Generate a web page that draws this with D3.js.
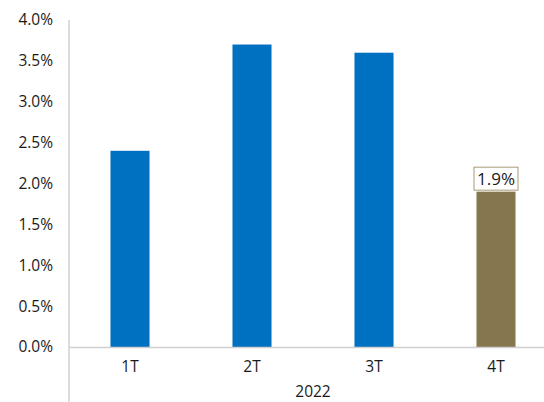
<!DOCTYPE html>
<html><head><meta charset="utf-8">
<script src="https://cdn.jsdelivr.net/npm/d3@7"></script>
<style>body{margin:0;background:#fff}text{font-family:"Open Sans",sans-serif;fill:#1a1a1a}</style>
</head><body><svg id="c" width="544" height="402"></svg>
<script>
const categories = ["1T","2T","3T","4T"];
const values = [2.4, 3.7, 3.6, 1.9];
const colors = ["#0070C0","#0070C0","#0070C0","#86764E"];
const yTicks = [0,0.5,1,1.5,2,2.5,3,3.5,4];
const groupLabel = "2022";
const labelled = [3];

(function(){
const svg = d3.select("#c");
const mLeft = 69, mRight = 557, mTop = 20, mBottom = 347;
const x = d3.scaleBand().domain(categories).range([mLeft,mRight]).paddingInner(0.68).paddingOuter(0.34);
const y = d3.scaleLinear().domain([0,4]).range([mBottom, mTop]);

svg.append("line").attr("x1",mLeft).attr("x2",mLeft).attr("y1",y(4)).attr("y2",402).attr("stroke","#d0d0d0").attr("stroke-width",1.5);

svg.selectAll("text.yt").data(yTicks).enter().append("text").attr("class","yt")
  .attr("x",53).attr("y",d=>y(d)).attr("dy","0.35em").attr("text-anchor","end")
  .attr("font-size",15.5).text(d=>d.toFixed(1)+"%");

svg.selectAll("rect.bar").data(values).enter().append("rect").attr("class","bar")
  .attr("x",(d,i)=>x(categories[i])).attr("width",x.bandwidth())
  .attr("y",d=>y(d)).attr("height",d=>y(0)-y(d)).attr("fill",(d,i)=>colors[i]);

svg.append("line").attr("x1",mLeft).attr("x2",544).attr("y1",mBottom+0.5).attr("y2",mBottom+0.5).attr("stroke","#d0d0d0").attr("stroke-width",1.5);

svg.selectAll("text.xt").data(categories).enter().append("text").attr("class","xt")
  .attr("x",d=>x(d)+x.bandwidth()/2).attr("y",367).attr("dy","0.35em").attr("text-anchor","middle")
  .attr("font-size",15.5).text(d=>d);

svg.append("text").attr("x",(mLeft+mRight)/2).attr("y",392).attr("dy","0.35em").attr("text-anchor","middle").attr("font-size",15.5).text(groupLabel);

labelled.forEach(i=>{
  const cx = x(categories[i])+x.bandwidth()/2, ty = y(values[i]) - 13;
  const g = svg.append("g");
  const t = g.append("text").attr("x",cx).attr("y",ty).attr("dy","0.35em").attr("text-anchor","middle").attr("font-size",17).text(values[i].toFixed(1)+"%");
  const bb = t.node().getBBox();
  g.insert("rect","text").attr("x",cx-22).attr("y",ty-11.5).attr("width",44).attr("height",23).attr("fill","#fff").attr("stroke","#a89a74").attr("stroke-width",1);
});
})();
</script></body></html>
